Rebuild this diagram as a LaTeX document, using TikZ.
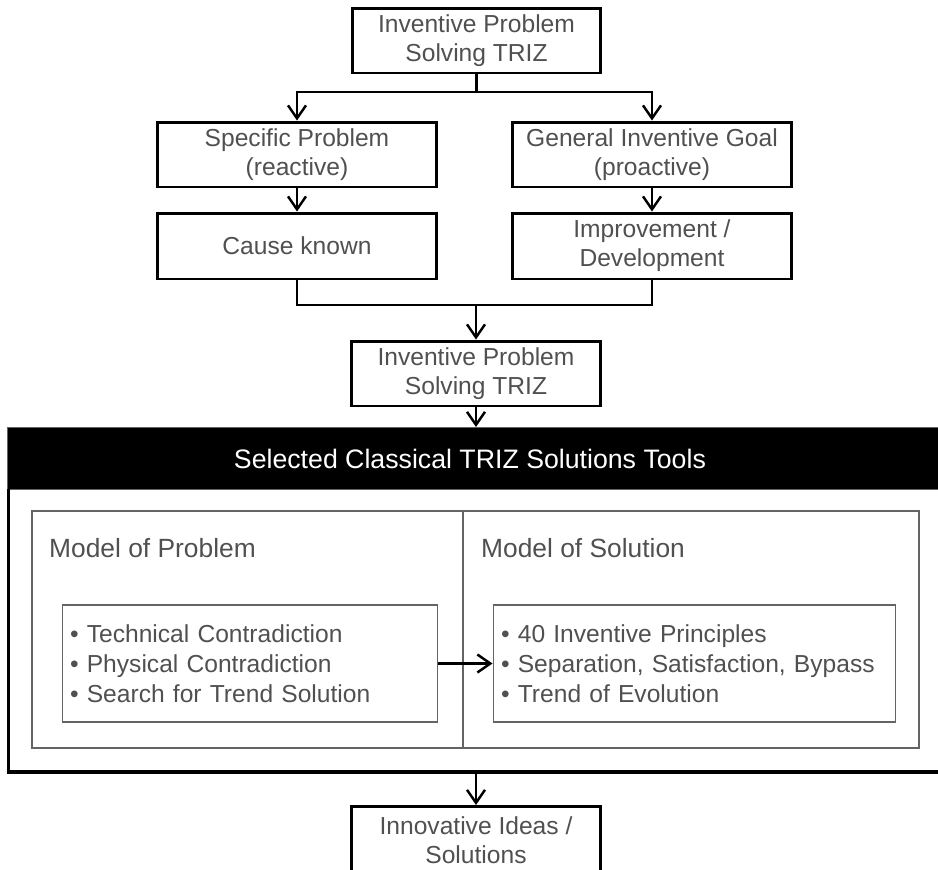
\documentclass[tikz,border=0pt]{standalone}
\usepackage{fontspec}
\setmainfont{Liberation Sans}
\usetikzlibrary{arrows.meta}

\definecolor{textgray}{RGB}{80,80,80}
\definecolor{framegray}{RGB}{100,100,100}

\tikzset{
  stepbox/.style={draw=black, line width=1.7pt, text=textgray,
    minimum width=5.6cm, minimum height=1.3cm, align=center,
    font=\fontsize{14}{16.5}\selectfont},
  listbox/.style={draw=framegray, line width=0.6pt, text=textgray,
    minimum height=2.34cm, align=left, inner xsep=0.16cm,
    font=\fontsize{14}{17}\selectfont},
  modellabel/.style={anchor=west, text=textgray, inner sep=0pt,
    font=\fontsize{15}{18}\selectfont},
}

\begin{document}
\begin{tikzpicture}[x=0.02cm, y=-0.02cm, >={Straight Barb[length=2.6mm, width=3.6mm]},
  line width=1.4pt]
  \useasboundingbox (0,0) rectangle (938,870);

  % upper flow
  \node[stepbox, minimum width=4.98cm] (trizA) at (476.5,40.5)
    {Inventive Problem\\Solving TRIZ};
  \node[stepbox] (specific) at (297,154.5) {Specific Problem\\(reactive)};
  \node[stepbox] (general)  at (652,154.5) {General Inventive Goal\\(proactive)};
  \node[stepbox, minimum height=1.32cm] (cause)   at (297,246) {Cause known};
  \node[stepbox, minimum height=1.32cm] (improve) at (652,246)
    {Improvement /\\Development};
  \node[stepbox, minimum width=5cm] (trizB) at (476,373.5)
    {Inventive Problem\\Solving TRIZ};

  \coordinate (fork)  at (476.5,92);
  \coordinate (merge) at (476,305);

  \draw (trizA) -- (fork);
  \draw[->] (fork) -| (specific);
  \draw[->] (fork) -| (general);
  \draw[->] (specific) -- (cause);
  \draw[->] (general) -- (improve);
  \draw (cause) -- (cause |- merge) -- (improve |- merge) -- (improve);
  \draw[->] (merge) -- (trizB);

  % tools frame
  \node[fill=black, draw=framegray, line width=0.6pt, text=white,
    minimum width=18.7cm, minimum height=1.24cm, anchor=north west,
    font=\fontsize{15.2}{18}\selectfont] (bar) at (7,427)
    {\hspace*{-0.2cm}Selected Classical TRIZ Solutions Tools};
  \draw[->] (trizB) -- (trizB |- bar.north);

  \coordinate (framebot) at (476,772);
  \draw[line width=1.8pt] (8.5,489) -- (8.5,772) -- (945,772);

  \draw[framegray, line width=0.6pt] (32,511) rectangle (919,748);
  \draw[framegray, line width=0.6pt] (463,511) -- (463,748);

  \node[modellabel] (mprob) at (48,548) {Model of Problem};
  \node[modellabel] (msol)  at (480,548) {Model of Solution};

  \node[listbox, minimum width=7.52cm, text width=7.2cm] (problist) at (250,663.5)
    {\textbullet\ Technical Contradiction\\
     \textbullet\ Physical Contradiction\\
     \textbullet\ Search for Trend Solution};
  \node[listbox, minimum width=8.06cm, text width=7.74cm] (sollist) at (694.5,663.5)
    {\textbullet\ 40 Inventive Principles\\
     \textbullet\ Separation, Satisfaction, Bypass\\
     \textbullet\ Trend of Evolution};
  \draw[->] (problist) -- (sollist);

  % result
  \node[stepbox, minimum width=4.98cm, minimum height=1.34cm] (ideas) at (476,840)
    {Innovative Ideas /\\Solutions};
  \draw[->] (framebot) -- (ideas);
\end{tikzpicture}
\end{document}
